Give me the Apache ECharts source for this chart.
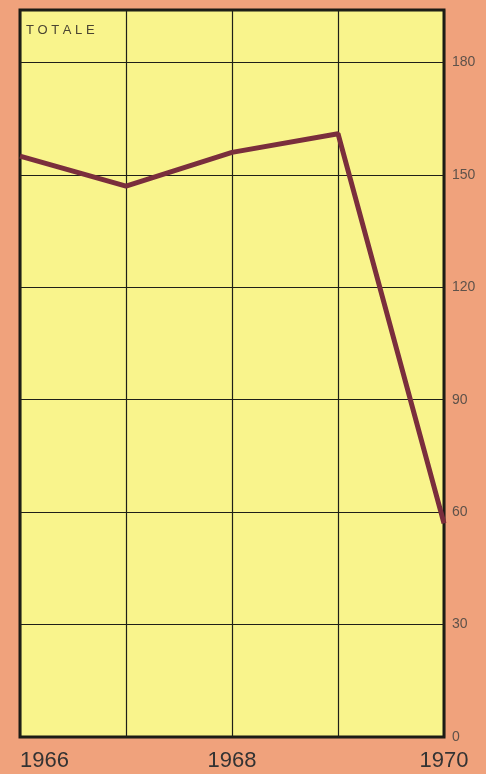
<!DOCTYPE html>
<html>
<head>
<meta charset="utf-8">
<script src="https://cdn.jsdelivr.net/npm/echarts@6/dist/echarts.min.js"></script>
<style>
html,body{margin:0;padding:0;background:#f0a27c;}
#main{width:486px;height:774px;}
</style>
</head>
<body>
<div id="main"></div>
<script>
// dati del grafico
var anni = ['1966', '1967', '1968', '1969', '1970'];
var totale = [155, 147, 156, 161, 57];
var tickY = [0, 30, 60, 90, 120, 150, 180];

var myChart = echarts.init(document.getElementById('main'));
var option = {
    backgroundColor: '#f0a27c',
    title: {
        text: 'T O T A L E',
        left: 21,
        top: 19,
        textStyle: {
            fontFamily: 'Liberation Sans',
            fontSize: 13,
            fontWeight: 'normal',
            color: '#4a4432'
        }
    },
    grid: {
        left: 20,
        right: 42,
        top: 10,
        bottom: 37,
        outerBoundsMode: 'none',
        containLabel: false,
        show: true,
        backgroundColor: '#f9f48c',
        borderColor: '#1a1a14',
        borderWidth: 3
    },
    xAxis: {
        type: 'category',
        boundaryGap: false,
        data: anni,
        axisLine: { show: false },
        axisTick: { show: false },
        axisLabel: {
            interval: 1,
            margin: 13,
            alignMinLabel: 'left',
            fontFamily: 'Liberation Sans',
            fontSize: 22,
            color: '#333333'
        },
        splitLine: {
            show: true,
            interval: 0,
            lineStyle: { color: '#1f1f18', width: 1.2 }
        }
    },
    yAxis: {
        type: 'value',
        position: 'right',
        min: 0,
        max: 194,
        interval: 30,
        axisLine: { show: false },
        axisTick: { show: false },
        axisLabel: {
            showMaxLabel: false,
            margin: 8,
            fontFamily: 'Liberation Sans',
            fontSize: 14,
            color: '#5e524a',
            formatter: function (v) {
                return tickY.indexOf(v) >= 0 ? String(v) : '';
            }
        },
        splitLine: {
            show: true,
            lineStyle: { color: '#1f1f18', width: 1.2 }
        }
    },
    series: [
        {
            name: 'Totale',
            type: 'line',
            data: totale,
            symbol: 'none',
            lineStyle: { color: '#7a2e3c', width: 5 },
            itemStyle: { color: '#7a2e3c' }
        }
    ]
};
myChart.setOption(option, true);
</script>
</body>
</html>
